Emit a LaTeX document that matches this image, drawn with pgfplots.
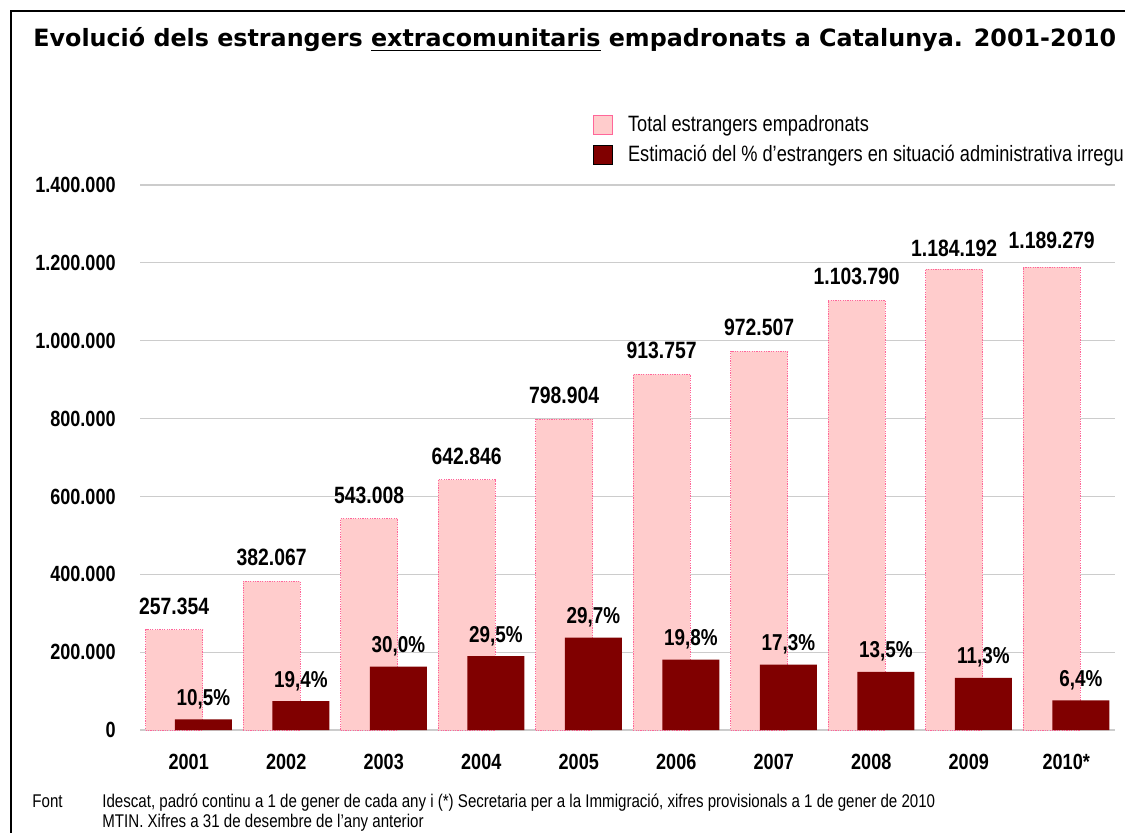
\documentclass[border=0pt]{standalone}
\usepackage{fontspec}
\setmainfont{Liberation Sans}[FakeStretch=0.82]
\newfontfamily\titlefont{DejaVu Sans}
\usepackage{pgfplots}
\pgfplotsset{compat=1.18}
\definecolor{pinkfill}{HTML}{FFCCCC}
\definecolor{pinkedge}{HTML}{FF6699}
\definecolor{darkred}{HTML}{800000}
\definecolor{gridgray}{HTML}{CCCCCC}
\pgfplotsset{sqlegend/.style={/pgfplots/legend image code/.code={\draw[##1,solid] (0pt,-4.75pt) rectangle (9.5pt,4.75pt);}}}

\begin{document}
\begin{tikzpicture}
\useasboundingbox (0,0) rectangle (562.5pt,416pt);
\fill[white] (0,0) rectangle (562.5pt,416pt);
\draw[line width=1pt] (5.5pt,-10pt) -- (5.5pt,410.5pt) -- (600pt,410.5pt);
\node[anchor=base west, inner sep=0pt, font=\titlefont\bfseries\fontsize{11.9}{14}\selectfont] at (16.5pt,392.5pt) {Evolució dels estrangers \underline{extracomunitaris} empadronats a Catalunya. 2001-2010};
\begin{axis}[
  at={(70pt,51pt)}, anchor=south west, scale only axis,
  width=487.5pt, height=272.5pt,
  xmin=-0.5, xmax=9.5, ymin=0, ymax=1400000,
  axis line style={draw=none},
  major tick length=0pt,
  ytick={0,200000,400000,600000,800000,1000000,1200000,1400000},
  ymajorgrids, grid style={gridgray, line width=0.6pt},
  scaled y ticks=false,
  yticklabel style={/pgf/number format/.cd, fixed, precision=0, 1000 sep={.}, assume math mode=true, /tikz/.cd, font=\bfseries\fontsize{11}{13}\selectfont, inner sep=0pt, xshift=-12pt},
  xtick={0,1,2,3,4,5,6,7,8,9},
  xticklabels={2001,2002,2003,2004,2005,2006,2007,2008,2009,2010*},
  xticklabel style={font=\bfseries\fontsize{11}{13}\selectfont, anchor=base, inner sep=0pt, yshift=-19.7pt},
  legend style={at={(axis description cs:0.4646,1.1284)}, anchor=north west, draw=none, fill=none, inner sep=0pt, row sep=5pt, column sep=7.35pt, font=\fontsize{11.1}{13}\selectfont, nodes={inner sep=0pt}},
  legend cell align=left,
]
\addplot[ybar, bar width=28.5pt, bar shift=-7.3pt, fill=pinkfill, draw=pinkedge, line width=0.5pt, dash pattern=on 0.6pt off 0.6pt, sqlegend,
  point meta=explicit symbolic, nodes near coords,
  nodes near coords style={font=\bfseries\fontsize{11.8}{14}\selectfont, anchor=base, inner sep=0pt, xshift=-7.3pt, yshift=7.8pt, text=black}]
  coordinates {
  (0,257354) [257.354]
  (1,382067) [382.067]
  (2,543008) [543.008]
  (3,642846) [642.846]
  (4,798904) [798.904]
  (5,913757) [913.757]
  (6,972507) [972.507]
  (7,1103790) [1.103.790]
  (8,1184192) [{\raisebox{-1.45pt}{1.184.192}}]
  (9,1189279) [{\raisebox{1.7pt}{1.189.279}}]
  };
\addlegendentry{Total estrangers empadronats}
\addplot[ybar, bar width=28.5pt, bar shift=7.3pt, fill=darkred, draw=none, sqlegend,
  point meta=explicit symbolic, nodes near coords,
  nodes near coords style={font=\bfseries\fontsize{11.5}{14}\selectfont, anchor=base, inner sep=0pt, xshift=7.3pt, yshift=7pt, text=black}]
  coordinates {
  (0,27022) [{10,5\%}]
  (1,74121) [{19,4\%}]
  (2,162902) [{30,0\%}]
  (3,189640) [{29,5\%}]
  (4,237274) [{29,7\%}]
  (5,180924) [{19,8\%}]
  (6,168244) [{17,3\%}]
  (7,149012) [{13,5\%}]
  (8,133814) [{11,3\%}]
  (9,76114) [{6,4\%}]
  };
\addlegendentry{Estimació del \% d’estrangers en situació administrativa irregu}
\end{axis}
\node[anchor=base west, inner sep=0pt, font=\fontsize{9.2}{11}\selectfont] at (16pt,12.5pt) {Font};
\node[anchor=base west, inner sep=0pt, font=\fontsize{9.2}{11}\selectfont] at (51pt,12.5pt) {Idescat, padró continu a 1 de gener de cada any i (*) Secretaria per a la Immigració, xifres provisionals a 1 de gener de 2010};
\node[anchor=base west, inner sep=0pt, font=\fontsize{9.2}{11}\selectfont] at (51pt,2.5pt) {MTIN. Xifres a 31 de desembre de l’any anterior};
\end{tikzpicture}
\end{document}
